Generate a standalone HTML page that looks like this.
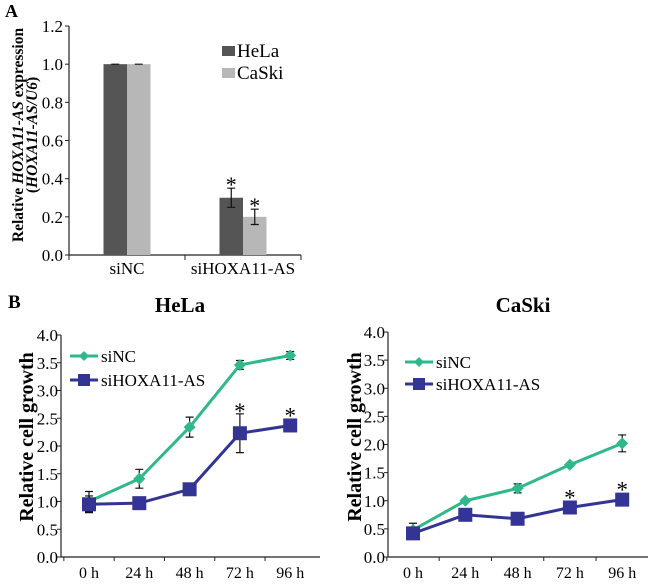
<!DOCTYPE html>
<html><head><meta charset="utf-8"><style>
body{margin:0;background:#fff;}
svg{display:block;font-family:"Liberation Serif",serif;}
</style></head><body>
<svg id="chart" width="650" height="586" viewBox="0 0 650 586" xmlns="http://www.w3.org/2000/svg">
<text x="5" y="17" font-size="18" font-weight="bold">A</text>
<text x="8" y="308" font-size="19" font-weight="bold">B</text>
<g id="barA"></g>
<g id="hela"></g>
<g id="caski"></g>
</svg>
<script>
const barCats = ["siNC","siHOXA11-AS"];
const barHeLa = [1.0, 0.30];
const barHeLaErr = [0.0, 0.05];
const barCaSki = [1.0, 0.20];
const barCaSkiErr = [0.0, 0.04];
const barSig = [false, true];
const barTicks = ["0.0","0.2","0.4","0.6","0.8","1.0","1.2"];

const timeLabels = ["0 h","24 h","48 h","72 h","96 h"];
const growthTicks = ["0.0","0.5","1.0","1.5","2.0","2.5","3.0","3.5","4.0"];
const helaNC = [1.0, 1.41, 2.34, 3.46, 3.63];
const helaNCErr = [0.18, 0.17, 0.18, 0.08, 0.07];
const helaSi = [0.95, 0.97, 1.22, 2.23, 2.37];
const helaSiErr = [0.15, 0.05, 0.05, 0.35, 0.05];
const helaSig = [false,false,false,true,true];
const caskiNC = [0.48, 1.0, 1.22, 1.64, 2.02];
const caskiNCErr = [0.12, 0.03, 0.08, 0.03, 0.15];
const caskiSi = [0.42, 0.75, 0.68, 0.88, 1.02];
const caskiSiErr = [0.05, 0.05, 0.04, 0.04, 0.10];
const caskiSig = [false,false,false,true,true];

const NS="http://www.w3.org/2000/svg";
function mk(parent, tag, attrs, text){
  const e=document.createElementNS(NS,tag);
  for(const k in attrs) e.setAttribute(k,attrs[k]);
  if(text!==undefined) e.textContent=text;
  parent.appendChild(e); return e;
}

// Panel A
(function(){
  const g=document.getElementById('barA');
  const x0=69,x1=301,yB=255,yT=26,max=1.2;
  const y=v=>yB-(v/max)*(yB-yT);
  const ax=mk(g,'path',{d:`M${x0},${yT} V${yB} H${x1}`,stroke:'#222','stroke-width':1.2,fill:'none'});
  
  
  barTicks.forEach(t=>{
    const v=parseFloat(t);
    mk(g,'line',{x1:x0-4,x2:x0,y1:y(v),y2:y(v),stroke:'#222'});
    const tx=mk(g,'text',{x:x0-6,y:y(v)+6,'font-size':17,'text-anchor':'end'},t);
    
    
  });
  const groupW=(x1-x0)/barCats.length;
  [x0,x0+groupW,x1].forEach(xx=>mk(g,'line',{x1:xx,x2:xx,y1:yB,y2:yB+5,stroke:'#222'}));
  const bw=23.5;
  barCats.forEach((c,i)=>{
    const cx=x0+groupW*(i+0.5);
    [[barHeLa,barHeLaErr,'#555555',-bw],[barCaSki,barCaSkiErr,'#b7b7b7',0]].forEach(([vals,errs,col,off],s)=>{
      const r=mk(g,'rect',{x:cx+off,y:y(vals[i]),width:bw,height:yB-y(vals[i]),fill:col});
      
      
      const ex=cx+off+bw/2;
      mk(g,'path',{d:`M${ex},${y(vals[i]+errs[i])} V${y(vals[i]-errs[i])} M${ex-4},${y(vals[i]+errs[i])} H${ex+4} M${ex-4},${y(vals[i]-errs[i])} H${ex+4}`,stroke:'#111','stroke-width':1.2,fill:'none'});
      if(barSig[i]){
        const st=mk(g,'text',{x:ex,y:y(vals[i]+errs[i])+4,'font-size':22,'text-anchor':'middle'},'*');
        
        
      }
    });
    const lb=mk(g,'text',{x:cx,y:274,'font-size':17,'text-anchor':'middle'},c);
    
    
  });
  const yt=mk(g,'text',{transform:'translate(23,135) rotate(-90)','font-size':15.5,'font-weight':'bold','text-anchor':'middle'});
  
  
  yt.innerHTML='Relative <tspan font-style="italic">HOXA11-AS</tspan> expression';
  const yt2=mk(g,'text',{transform:'translate(37,135) rotate(-90)','font-size':15.5,'font-weight':'bold','text-anchor':'middle'});
  
  
  yt2.innerHTML='(<tspan font-style="italic">HOXA11-AS/U6</tspan>)';
  [['HeLa','#555555',46],['CaSki','#b7b7b7',68]].forEach(([n,c,yy])=>{
    const le=mk(g,'g',{});
    
    
    mk(le,'rect',{x:222,y:yy,width:13,height:10,fill:c});
    mk(le,'text',{x:237,y:yy+11,'font-size':19},n);
  });
})();

function growth(id, title, nc, ncE, si, siE, sig, o){
  const g=document.getElementById(id);
  const y=v=>o.yB-(v/4)*(o.yB-o.yT);
  const x=i=>o.xs+i*o.dx;
  const tt=mk(g,'text',{x:o.tx,y:312,'font-size':21,'font-weight':'bold','text-anchor':'middle'},title);
  
  
  const ax=mk(g,'path',{d:`M${o.x0},${o.yT} V${o.yB} H${o.x1}`,stroke:'#222','stroke-width':1.2,fill:'none'});
  
  
  growthTicks.forEach(t=>{
    const v=parseFloat(t);
    mk(g,'line',{x1:o.x0-4,x2:o.x0,y1:y(v),y2:y(v),stroke:'#222'});
    const tx=mk(g,'text',{x:o.x0-3,y:y(v)+6,'font-size':17,'text-anchor':'end'},t);
    
    
  });
  timeLabels.forEach((t,i)=>{
    mk(g,'line',{x1:x(i)-o.dx/2,x2:x(i)-o.dx/2,y1:o.yB,y2:o.yB+4,stroke:'#222'});
    const tx=mk(g,'text',{x:x(i),y:o.yB+21,'font-size':16,'text-anchor':'middle'},t);
    
    
  });
  const yt=mk(g,'text',{transform:`translate(${o.ytx},${o.ytc}) rotate(-90)`,'font-size':20,'font-weight':'bold','text-anchor':'middle'},'Relative cell growth');
  
  
  [[nc,ncE,'#2fb88a','siNC'],[si,siE,'#343494','siHOXA11-AS']].forEach(([vals,errs,col,name],s)=>{
    const sg=mk(g,'g',{});
    
    
    vals.forEach((v,i)=>{
      const ex=x(i);
      mk(sg,'path',{d:`M${ex},${y(v+errs[i])} V${y(v-errs[i])} M${ex-4},${y(v+errs[i])} H${ex+4} M${ex-4},${y(v-errs[i])} H${ex+4}`,stroke:'#111','stroke-width':1.2,fill:'none'});
    });
    const line=mk(sg,'polyline',{points:vals.map((v,i)=>`${x(i)},${y(v)}`).join(' '),fill:'none',stroke:col,'stroke-width':3});
    
    
    vals.forEach((v,i)=>{
      let m;
      if(s===0) m=mk(sg,'path',{d:`M${x(i)},${y(v)-6} L${x(i)+6},${y(v)} L${x(i)},${y(v)+6} L${x(i)-6},${y(v)} Z`,fill:col});
      else m=mk(sg,'rect',{x:x(i)-7,y:y(v)-7,width:14,height:14,fill:col});
      
      
      if(s===1 && sig[i]){
        const top=y(v+errs[i]);
        const st=mk(sg,'text',{x:x(i),y:Math.min(top,y(v)-7)+5,'font-size':23,'text-anchor':'middle'},'*');
        
        
      }
    });
    const ly=o.ly[s];
    const le=mk(g,'g',{});
    
    
    mk(le,'line',{x1:o.lx,x2:o.lx+28,y1:ly,y2:ly,stroke:col,'stroke-width':3});
    if(s===0) mk(le,'path',{d:`M${o.lx+14},${ly-5} l5,5 l-5,5 l-5,-5 Z`,fill:col});
    else mk(le,'rect',{x:o.lx+8,y:ly-6,width:12,height:12,fill:col});
    mk(le,'text',{x:o.lx+31,y:ly+6,'font-size':17},name);
  });
}
growth('hela','HeLa',helaNC,helaNCErr,helaSi,helaSiErr,helaSig,
  {x0:61,x1:320,yT:335,yB:557,xs:89,dx:50.3,tx:180,ytx:33,ytc:437,lx:70,ly:[356,380]});
growth('caski','CaSki',caskiNC,caskiNCErr,caskiSi,caskiSiErr,caskiSig,
  {x0:388,x1:648,yT:332,yB:557,xs:413,dx:52.3,tx:523,ytx:361,ytc:437,lx:405,ly:[362,384]});
</script>
</body></html>
